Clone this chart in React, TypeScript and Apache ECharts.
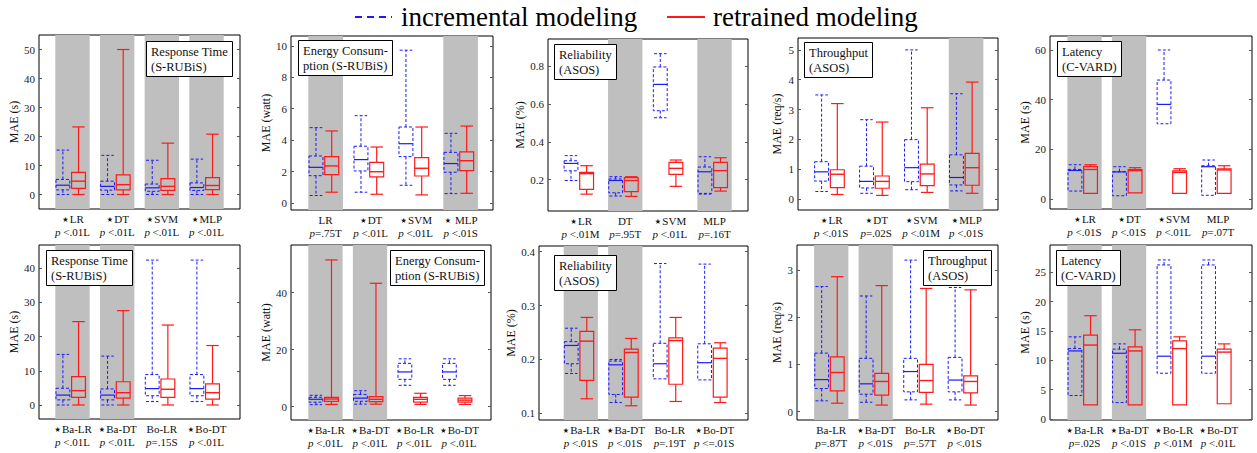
import React, { useEffect, useRef } from "react";
import * as echarts from "echarts";

const FONT = "Liberation Serif";
const STAR_FONT = "DejaVu Sans";
const BLUE = "#1a1aff";
const RED = "#ff1a1a";
const BAND = "#bfbfbf";
const TEXT = "#111";

// ---------- legend ----------
const legendNames = ["incremental modeling", "retrained modeling"];

// ---------- Panel 1: Response Time (S-RUBiS), single models ----------
const rtCats = ["⋆LR", "⋆DT", "⋆SVM", "⋆MLP"];
const rtPvals = ["p <.01L", "p <.01L", "p <.01L", "p <.01L"];
const rtShaded = [1, 2, 3, 4];
const rtTicks = [0, 10, 20, 30, 40, 50];
const rtInc = [
  [0, 1.6, 3.2, 5.2, 15.3],
  [0, 1.5, 2.8, 4.6, 13.5],
  [0, 1.1, 2.3, 3.6, 11.8],
  [0, 1.4, 2.4, 4.0, 12.2],
];
const rtRet = [
  [0, 2.1, 4.6, 7.6, 23.3],
  [0, 1.6, 3.4, 6.8, 50],
  [0, 1.4, 2.8, 5.5, 17.7],
  [0, 1.7, 3.1, 5.8, 20.8],
];

// ---------- Panel 2: Energy Consumption (S-RUBiS), single ----------
const ecCats = ["LR", "⋆DT", "⋆SVM", "⋆ MLP"];
const ecPvals = ["p=.75T", "p <.01L", "p <.01L", "p <.01S"];
const ecShaded = [1, 4];
const ecTicks = [0, 2, 4, 6, 8, 10];
const ecInc = [
  [0.49, 1.75, 2.28, 3.0, 4.8],
  [0.7, 2.05, 2.77, 3.62, 5.56],
  [1.14, 2.96, 3.78, 4.84, 9.72],
  [0.61, 1.97, 2.52, 3.23, 4.44],
];
const ecRet = [
  [0.7, 1.82, 2.37, 2.96, 4.59],
  [0.57, 1.67, 2.0, 2.6, 3.57],
  [0.53, 1.73, 2.22, 2.9, 4.84],
  [0.63, 2.07, 2.7, 3.26, 4.9],
];

// ---------- Panel 3: Reliability (ASOS), single ----------
const relCats = ["⋆LR", "DT", "⋆SVM", "MLP"];
const relPvals = ["p <.01M", "p=.95T", "p <.01L", "p=.16T"];
const relShaded = [2, 4];
const relTicks = [0.2, 0.4, 0.6, 0.8];
const relInc = [
  [0.196, 0.247, 0.286, 0.3, 0.327],
  [0.114, 0.131, 0.196, 0.204, 0.216],
  [0.527, 0.564, 0.703, 0.795, 0.865],
  [0.124, 0.128, 0.242, 0.267, 0.321],
];
const relRet = [
  [0.124, 0.149, 0.232, 0.239, 0.274],
  [0.112, 0.137, 0.196, 0.211, 0.216],
  [0.165, 0.228, 0.26, 0.292, 0.304],
  [0.14, 0.158, 0.248, 0.292, 0.316],
];

// ---------- Panel 4: Throughput (ASOS), single ----------
const thCats = ["⋆LR", "⋆DT", "⋆SVM", "⋆MLP"];
const thPvals = ["p <.01S", "p=.02S", "p <.01M", "p <.01S"];
const thShaded = [4];
const thTicks = [0, 1, 2, 3, 4, 5];
const thInc = [
  [0.25, 0.6, 0.91, 1.25, 3.49],
  [0.19, 0.37, 0.59, 1.1, 2.66],
  [0.31, 0.58, 1.05, 1.99, 5.0],
  [0.27, 0.47, 0.72, 1.48, 3.53],
];
const thRet = [
  [0.15, 0.38, 0.83, 0.98, 3.2],
  [0.12, 0.36, 0.59, 0.77, 2.58],
  [0.22, 0.45, 0.84, 1.17, 3.06],
  [0.19, 0.46, 1.05, 1.53, 3.92],
];

// ---------- Panel 5: Latency (C-VARD), single ----------
const latCats = ["⋆LR", "⋆DT", "⋆SVM", "MLP"];
const latPvals = ["p <.01S", "p <.01S", "p <.01L", "p=.07T"];
const latShaded = [1, 2];
const latTicks = [0, 20, 40, 60];
const latInc = [
  [3.2, 3.2, 11.5, 11.9, 13.8],
  [1.3, 1.3, 10.9, 11.0, 13.0],
  [30.3, 30.3, 38.1, 47.9, 60],
  [1.5, 1.5, 13.0, 13.4, 15.7],
];
const latRet = [
  [2.3, 2.3, 11.9, 13.0, 13.8],
  [2.5, 2.5, 11.4, 11.8, 12.6],
  [2.3, 2.3, 10.7, 11.3, 12.2],
  [2.3, 2.3, 11.7, 12.1, 13.4],
];

// ---------- Panel 6: Response Time (S-RUBiS), ensembles ----------
const rtEnsCats = ["⋆Ba-LR", "⋆Ba-DT", "Bo-LR", "⋆Bo-DT"];
const rtEnsPvals = ["p <.01L", "p <.01L", "p=.15S", "p <.01L"];
const rtEnsShaded = [1, 2];
const rtEnsTicks = [0, 10, 20, 30, 40];
const rtEnsInc = [
  [0, 1.5, 2.9, 4.9, 14.8],
  [0, 1.5, 2.9, 4.7, 14.3],
  [1.0, 2.7, 4.8, 8.9, 42.4],
  [1.0, 2.7, 4.8, 8.9, 42.4],
];
const rtEnsRet = [
  [0, 2.2, 4.2, 8.3, 24.4],
  [0, 2.0, 3.6, 6.8, 27.6],
  [0, 2.2, 4.6, 7.6, 23.4],
  [0, 1.7, 3.6, 6.2, 17.4],
];

// ---------- Panel 7: Energy Consumption (S-RUBiS), ensembles ----------
const ecEnsCats = ["⋆Ba-LR", "⋆Ba-DT", "⋆Bo-LR", "⋆Bo-DT"];
const ecEnsPvals = ["p <.01L", "p <.01L", "p <.01L", "p <.01L"];
const ecEnsShaded = [1, 2];
const ecEnsTicks = [0, 20, 40];
const ecEnsInc = [
  [0.7, 1.6, 2.6, 3.3, 4.0],
  [0.9, 1.9, 3.0, 4.3, 5.6],
  [7.5, 9.6, 12.2, 15.2, 16.8],
  [7.5, 9.6, 12.2, 15.2, 16.8],
];
const ecEnsRet = [
  [0.8, 1.9, 2.7, 3.3, 51.5],
  [0.9, 1.8, 2.6, 3.5, 43.3],
  [0.8, 1.6, 2.6, 3.3, 4.7],
  [0.8, 1.6, 2.3, 3.0, 3.9],
];

// ---------- Panel 8: Reliability (ASOS), ensembles ----------
const relEnsCats = ["⋆Ba-LR", "⋆Ba-DT", "Bo-LR", "⋆Bo-DT"];
const relEnsPvals = ["p <.01S", "p <.01S", "p=.19T", "p <=.01S"];
const relEnsShaded = [1, 2];
const relEnsTicks = [0.1, 0.2, 0.3, 0.4];
const relEnsInc = [
  [0.174, 0.192, 0.226, 0.233, 0.258],
  [0.12, 0.135, 0.19, 0.197, 0.2],
  [0.164, 0.164, 0.192, 0.23, 0.378],
  [0.162, 0.162, 0.194, 0.229, 0.377],
];
const relEnsRet = [
  [0.127, 0.161, 0.234, 0.252, 0.278],
  [0.114, 0.13, 0.213, 0.219, 0.239],
  [0.122, 0.154, 0.235, 0.24, 0.278],
  [0.12, 0.13, 0.202, 0.221, 0.231],
];

// ---------- Panel 9: Throughput (ASOS), ensembles ----------
const thEnsCats = ["Ba-LR", "⋆Ba-DT", "Bo-LR", "⋆Bo-DT"];
const thEnsPvals = ["p=.87T", "p <.01S", "p=.57T", "p <.01S"];
const thEnsShaded = [1, 2];
const thEnsTicks = [0, 1, 2, 3];
const thEnsInc = [
  [0.23, 0.49, 0.68, 1.24, 2.65],
  [0.2, 0.37, 0.59, 1.13, 2.45],
  [0.25, 0.42, 0.85, 1.13, 3.21],
  [0.25, 0.42, 0.67, 1.15, 2.63],
];
const thEnsRet = [
  [0.18, 0.44, 0.83, 1.16, 2.86],
  [0.14, 0.35, 0.64, 0.81, 2.67],
  [0.16, 0.41, 0.66, 1.0, 2.61],
  [0.14, 0.4, 0.64, 0.76, 2.58],
];

// ---------- Panel 10: Latency (C-VARD), ensembles ----------
const latEnsCats = ["⋆Ba-LR", "⋆Ba-DT", "⋆Bo-LR", "⋆Bo-DT"];
const latEnsPvals = ["p=.02S", "p <.01S", "p <.01M", "p <.01L"];
const latEnsShaded = [1, 2];
const latEnsTicks = [0, 5, 10, 15, 20, 25];
const latEnsInc = [
  [4.0, 4.0, 11.6, 12.0, 14.0],
  [2.8, 2.8, 11.2, 11.9, 12.8],
  [7.8, 7.8, 10.7, 26.25, 27.1],
  [7.8, 7.8, 10.7, 26.25, 27.1],
];
const latEnsRet = [
  [2.4, 2.4, 12.6, 14.3, 17.6],
  [2.4, 2.4, 11.6, 12.3, 15.2],
  [2.4, 2.4, 12.0, 13.3, 14.0],
  [2.6, 2.6, 11.4, 11.9, 12.8],
];

// ---------- layout (positions / sizes) ----------
const INC_OFF = -0.215;
const RET_OFF = 0.135;
const BOX_W = 0.31;
const BAND_HALF = 0.385;

type Panel = {
  grid: { left: number; top: number; width: number; height: number };
  x: [number, number];
  y: [number, number];
  ticks: number[];
  yName: string;
  nameGap: number;
  title: string;
  titlePos: [number, number];
  cats: string[];
  pvals: string[];
  shaded: number[];
  inc: number[][];
  ret: number[][];
};

const panels: Panel[] = [
  { grid: { left: 39, top: 35, width: 201, height: 174 }, x: [0.25, 4.75], y: [-5, 55], ticks: rtTicks, yName: "MAE (s)", nameGap: 16, title: "Response Time\n(S-RUBiS)", titlePos: [146, 41], cats: rtCats, pvals: rtPvals, shaded: rtShaded, inc: rtInc, ret: rtRet },
  { grid: { left: 291, top: 36, width: 202, height: 174 }, x: [0.23, 4.72], y: [-0.43, 10.62], ticks: ecTicks, yName: "MAE (watt)", nameGap: 15, title: "Energy Consum-\nption (S-RUBiS)", titlePos: [298, 40], cats: ecCats, pvals: ecPvals, shaded: ecShaded, inc: ecInc, ret: ecRet },
  { grid: { left: 548, top: 39, width: 200, height: 172 }, x: [0.27, 4.75], y: [0.035, 0.9425], ticks: relTicks, yName: "MAE (%)", nameGap: 20, title: "Reliability\n(ASOS)", titlePos: [554, 44], cats: relCats, pvals: relPvals, shaded: relShaded, inc: relInc, ret: relRet },
  { grid: { left: 798, top: 38, width: 200, height: 172 }, x: [0.26, 4.71], y: [-0.37, 5.4], ticks: thTicks, yName: "MAE (req/s)", nameGap: 15, title: "Throughput\n(ASOS)", titlePos: [804, 42], cats: thCats, pvals: thPvals, shaded: thShaded, inc: thInc, ret: thRet },
  { grid: { left: 1050, top: 36, width: 202, height: 173 }, x: [0.225, 4.76], y: [-4.03, 65.64], ticks: latTicks, yName: "MAE (s)", nameGap: 16, title: "Latency\n(C-VARD)", titlePos: [1057, 41], cats: latCats, pvals: latPvals, shaded: latShaded, inc: latInc, ret: latRet },
  { grid: { left: 39, top: 245, width: 201, height: 174 }, x: [0.25, 4.75], y: [-4.1, 46.82], ticks: rtEnsTicks, yName: "MAE (s)", nameGap: 16, title: "Response Time\n(S-RUBiS)", titlePos: [46, 250], cats: rtEnsCats, pvals: rtEnsPvals, shaded: rtEnsShaded, inc: rtEnsInc, ret: rtEnsRet },
  { grid: { left: 291, top: 245, width: 200, height: 175 }, x: [0.225, 4.72], y: [-4.67, 56.74], ticks: ecEnsTicks, yName: "MAE (watt)", nameGap: 16, title: "Energy Consum-\nption (S-RUBiS)", titlePos: [390, 250], cats: ecEnsCats, pvals: ecEnsPvals, shaded: ecEnsShaded, inc: ecEnsInc, ret: ecEnsRet },
  { grid: { left: 539, top: 246, width: 209, height: 174 }, x: [0.06, 4.76], y: [0.0876, 0.4106], ticks: relEnsTicks, yName: "MAE (%)", nameGap: 11, title: "Reliability\n(ASOS)", titlePos: [554, 255], cats: relEnsCats, pvals: relEnsPvals, shaded: relEnsShaded, inc: relEnsInc, ret: relEnsRet },
  { grid: { left: 797, top: 245, width: 201, height: 175 }, x: [0.23, 4.75], y: [-0.176, 3.53], ticks: thEnsTicks, yName: "MAE (req/s)", nameGap: 14, title: "Throughput\n(ASOS)", titlePos: [923, 250], cats: thEnsCats, pvals: thEnsPvals, shaded: thEnsShaded, inc: thEnsInc, ret: thEnsRet },
  { grid: { left: 1050, top: 245, width: 202, height: 175 }, x: [0.225, 4.76], y: [-0.17, 29.65], ticks: latEnsTicks, yName: "MAE (s)", nameGap: 16, title: "Latency\n(C-VARD)", titlePos: [1056, 250], cats: latEnsCats, pvals: latEnsPvals, shaded: latEnsShaded, inc: latEnsInc, ret: latEnsRet },
];

const boxRender = (color: string, dashed: boolean, width: number) => (params: any, api: any) => {
  const x = api.value(0);
  const lo = api.value(1);
  const q1 = api.value(2);
  const med = api.value(3);
  const q3 = api.value(4);
  const hi = api.value(5);
  const cx = api.coord([x, med])[0];
  const hw = api.size([BOX_W, 0])[0] / 2;
  const cap = hw * 0.9;
  const py = (v: number) => api.coord([x, v])[1];
  const yl = py(lo), y1 = py(q1), ym = py(med), y3 = py(q3), yh = py(hi);
  const st: any = { stroke: color, lineWidth: width, fill: "none" };
  if (dashed) st.lineDash = [3, 2];
  const children: any[] = [];
  if (hi > q3) {
    children.push({ type: "line", shape: { x1: cx, y1: y3, x2: cx, y2: yh }, style: st });
    children.push({ type: "line", shape: { x1: cx - cap, y1: yh, x2: cx + cap, y2: yh }, style: st });
  }
  if (lo < q1) {
    children.push({ type: "line", shape: { x1: cx, y1: y1, x2: cx, y2: yl }, style: st });
    children.push({ type: "line", shape: { x1: cx - cap, y1: yl, x2: cx + cap, y2: yl }, style: st });
  }
  children.push({ type: "rect", shape: { x: cx - hw, y: y3, width: 2 * hw, height: y1 - y3 }, style: st });
  children.push({ type: "line", shape: { x1: cx - hw, y1: ym, x2: cx + hw, y2: ym }, style: { stroke: color, lineWidth: width + 0.2 } });
  return { type: "group", children };
};

const bandRender = (params: any, api: any) => {
  const c = api.value(0);
  const x0 = api.coord([c - BAND_HALF, api.value(1)])[0];
  const x1 = api.coord([c + BAND_HALF, api.value(1)])[0];
  const cs = params.coordSys;
  return { type: "rect", shape: { x: x0, y: cs.y, width: x1 - x0, height: cs.height }, style: { fill: BAND } };
};

const catLabel = (cat: string) =>
  cat.startsWith("⋆") ? `{s|⋆}{c|${cat.slice(1)}}` : `{c|${cat}}`;

function buildOption(): any {
  const grid: any[] = [];
  const xAxis: any[] = [];
  const yAxis: any[] = [];
  const series: any[] = [];
  const title: any[] = [];
  panels.forEach((p, k) => {
    grid.push({ ...p.grid, show: true, borderColor: "#000", borderWidth: 1, backgroundColor: "transparent", containLabel: false });
    xAxis.push({
      type: "value",
      gridIndex: k,
      min: p.x[0],
      max: p.x[1],
      axisLine: { show: false },
      axisTick: { show: false },
      splitLine: { show: false },
      axisLabel: {
        show: true,
        customValues: [1, 2, 3, 4],
        margin: 3,
        formatter: (v: number) => {
          const i = Math.round(v) - 1;
          const pv = p.pvals[i] || "";
          return `${catLabel(p.cats[i])}\n{i|${pv.slice(0, 1)}}{q|${pv.slice(1)}}`;
        },
        rich: {
          c: { fontFamily: FONT, fontSize: 11, color: TEXT, lineHeight: 13 },
          s: { fontFamily: STAR_FONT, fontSize: 14, color: TEXT, lineHeight: 13 },
          i: { fontFamily: FONT, fontSize: 11, color: TEXT, lineHeight: 13, fontStyle: "italic" },
          q: { fontFamily: FONT, fontSize: 11, color: TEXT, lineHeight: 13 },
        },
      },
    });
    const tickStyle = { show: true, inside: true, length: 3, customValues: p.ticks, lineStyle: { color: "#555", width: 1 } };
    yAxis.push({
      type: "value",
      gridIndex: k,
      position: "left",
      min: p.y[0],
      max: p.y[1],
      axisLine: { show: false },
      axisTick: tickStyle,
      splitLine: { show: false },
      axisLabel: { customValues: p.ticks, margin: 4, fontFamily: FONT, fontSize: 11, color: "#222" },
      name: p.yName,
      nameLocation: "middle",
      nameGap: p.nameGap,
      nameTextStyle: { fontFamily: FONT, fontSize: 12, color: TEXT },
    });
    yAxis.push({
      type: "value",
      gridIndex: k,
      position: "right",
      min: p.y[0],
      max: p.y[1],
      axisLine: { show: false },
      axisTick: tickStyle,
      splitLine: { show: false },
      axisLabel: { show: false },
    });
    const mid = (p.y[0] + p.y[1]) / 2;
    series.push({
      type: "custom",
      xAxisIndex: k,
      yAxisIndex: 2 * k,
      z: 1,
      silent: true,
      clip: false,
      renderItem: bandRender,
      encode: { x: 0, y: 1 },
      data: p.shaded.map((c) => [c, mid]),
    });
    series.push({
      type: "custom",
      name: legendNames[0],
      xAxisIndex: k,
      yAxisIndex: 2 * k,
      z: 3,
      silent: true,
      clip: false,
      renderItem: boxRender(BLUE, true, 1),
      encode: { x: 0, y: [1, 2, 3, 4, 5] },
      data: p.inc.map((r, i) => [i + 1 + INC_OFF, ...r]),
    });
    series.push({
      type: "custom",
      name: legendNames[1],
      xAxisIndex: k,
      yAxisIndex: 2 * k,
      z: 3,
      silent: true,
      clip: false,
      renderItem: boxRender(RED, false, 1.2),
      encode: { x: 0, y: [1, 2, 3, 4, 5] },
      data: p.ret.map((r, i) => [i + 1 + RET_OFF, ...r]),
    });
    title.push({
      text: p.title,
      left: p.titlePos[0],
      top: p.titlePos[1],
      padding: [3, 5, 2, 5],
      borderColor: "#000",
      borderWidth: 1,
      backgroundColor: "#fff",
      z: 10,
      textStyle: { fontFamily: FONT, fontSize: 12.5, fontWeight: "normal", color: TEXT, lineHeight: 15.5 },
    });
  });

  const graphic: any[] = [
    { type: "line", shape: { x1: 355, y1: 17, x2: 392, y2: 17 }, style: { stroke: BLUE, lineWidth: 1.8, lineDash: [7, 5] } },
    { type: "text", x: 401, y: 17, style: { text: legendNames[0], fontFamily: FONT, fontSize: 27, fill: "#000", align: "left", verticalAlign: "middle" } },
    { type: "line", shape: { x1: 667, y1: 17, x2: 705, y2: 17 }, style: { stroke: RED, lineWidth: 1.8 } },
    { type: "text", x: 713, y: 17, style: { text: legendNames[1], fontFamily: FONT, fontSize: 27, fill: "#000", align: "left", verticalAlign: "middle" } },
  ];

  return {
    animation: false,
    backgroundColor: "#fff",
    textStyle: { fontFamily: FONT },
    title,
    grid,
    xAxis,
    yAxis,
    series,
    graphic,
  };
}

export default function App() {
  const ref = useRef<HTMLDivElement>(null);
  useEffect(() => {
    document.body.style.margin = "0";
    if (!ref.current) return;
    const chart = echarts.init(ref.current, undefined, { renderer: "svg" });
    chart.setOption(buildOption());
    return () => chart.dispose();
  }, []);
  return <div ref={ref} style={{ width: 1257, height: 453 }} />;
}
